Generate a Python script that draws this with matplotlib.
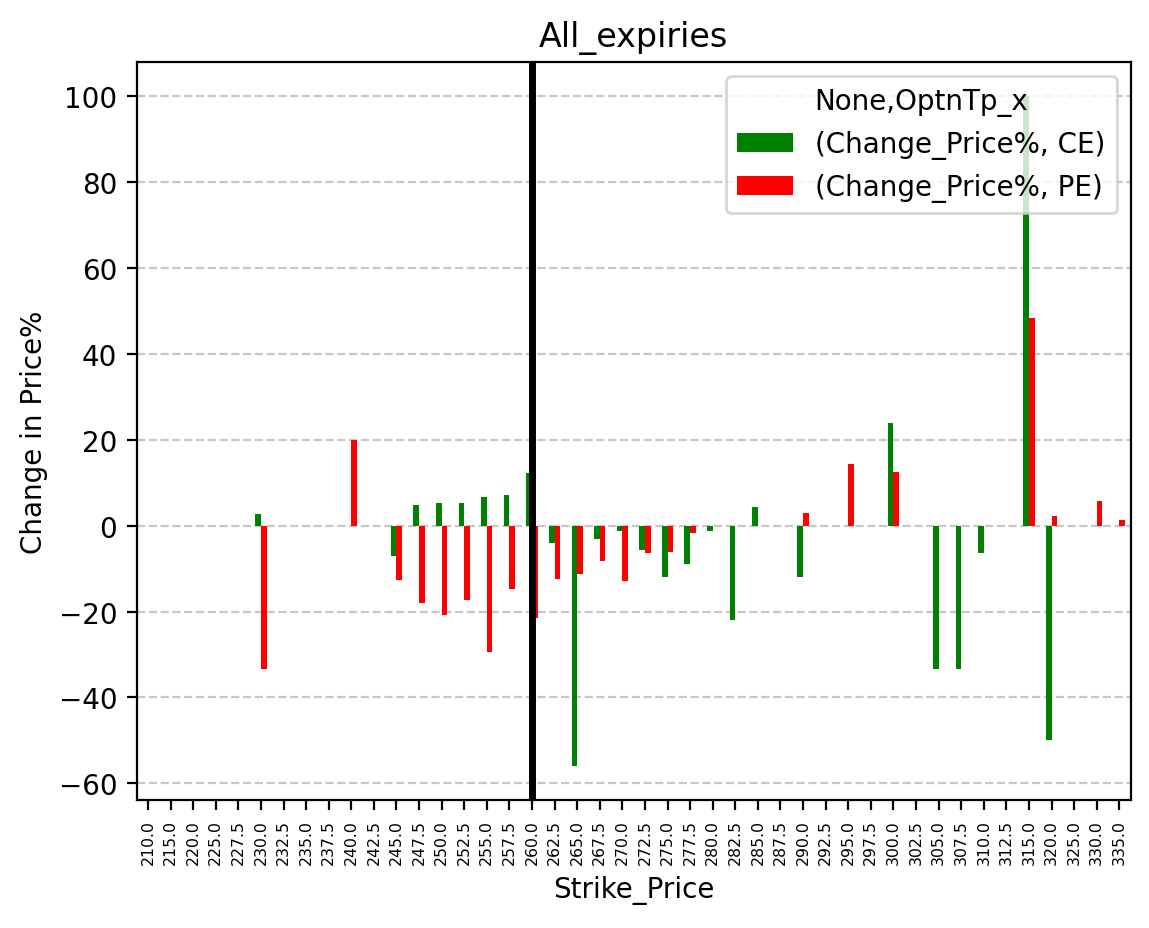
import numpy as np
import pandas as pd
import matplotlib
matplotlib.use("Agg")
import matplotlib.pyplot as plt

nan = np.nan

strikes = [210.0, 215.0, 220.0, 225.0, 227.5, 230.0, 232.5, 235.0, 237.5, 240.0,
           242.5, 245.0, 247.5, 250.0, 252.5, 255.0, 257.5, 260.0, 262.5, 265.0,
           267.5, 270.0, 272.5, 275.0, 277.5, 280.0, 282.5, 285.0, 287.5, 290.0,
           292.5, 295.0, 297.5, 300.0, 302.5, 305.0, 307.5, 310.0, 312.5, 315.0,
           320.0, 325.0, 330.0, 335.0]

ce_change = [nan, nan, nan, nan, nan, 2.7, nan, nan, nan, nan,
             nan, -7.0, 4.8, 5.3, 5.3, 6.7, 7.1, 12.2, -4.1, -56.0,
             -3.2, -1.3, -5.7, -12.0, -9.0, -1.3, -22.0, 4.4, nan, -12.0,
             nan, nan, nan, 23.9, nan, -33.3, -33.3, -6.5, nan, 100.0,
             -50.0, nan, nan, nan]

pe_change = [nan, nan, nan, nan, nan, -33.3, nan, nan, nan, 19.8,
             nan, -12.6, -18.1, -20.7, -17.4, -29.5, -14.7, -21.6, -12.5, -11.3,
             -8.3, -12.9, -6.4, -6.2, -1.8, nan, nan, nan, nan, 3.0,
             nan, 14.3, nan, 12.5, nan, nan, nan, nan, nan, 48.4,
             2.2, nan, 5.7, 1.2]

spot_strike = 260.0

cols = pd.MultiIndex.from_tuples([("Change_Price%", "CE"), ("Change_Price%", "PE")],
                                 names=[None, "OptnTp_x"])
df = pd.DataFrame(np.column_stack([ce_change, pe_change]),
                  index=pd.Index(strikes, name="Strike_Price"), columns=cols)

fig = plt.figure(figsize=(1149 / 200, 929 / 200), dpi=200)
ax = fig.add_axes([0.119, 0.138, 0.865, 0.794])
df.plot(kind="bar", ax=ax, color=["green", "red"])

# spot price marker
ax.axvline(x=strikes.index(spot_strike), color="black", linewidth=2.5)
ax.yaxis.grid(True, linestyle="--", alpha=0.7)
ax.set_axisbelow(True)
ax.tick_params(axis="x", labelsize=5.7)
ax.set_title("All_expiries", fontsize=12)
ax.set_ylabel("Change in Price%")
ax.legend(title="None,OptnTp_x", loc="upper right")

fig.savefig("out.png", dpi=200)
